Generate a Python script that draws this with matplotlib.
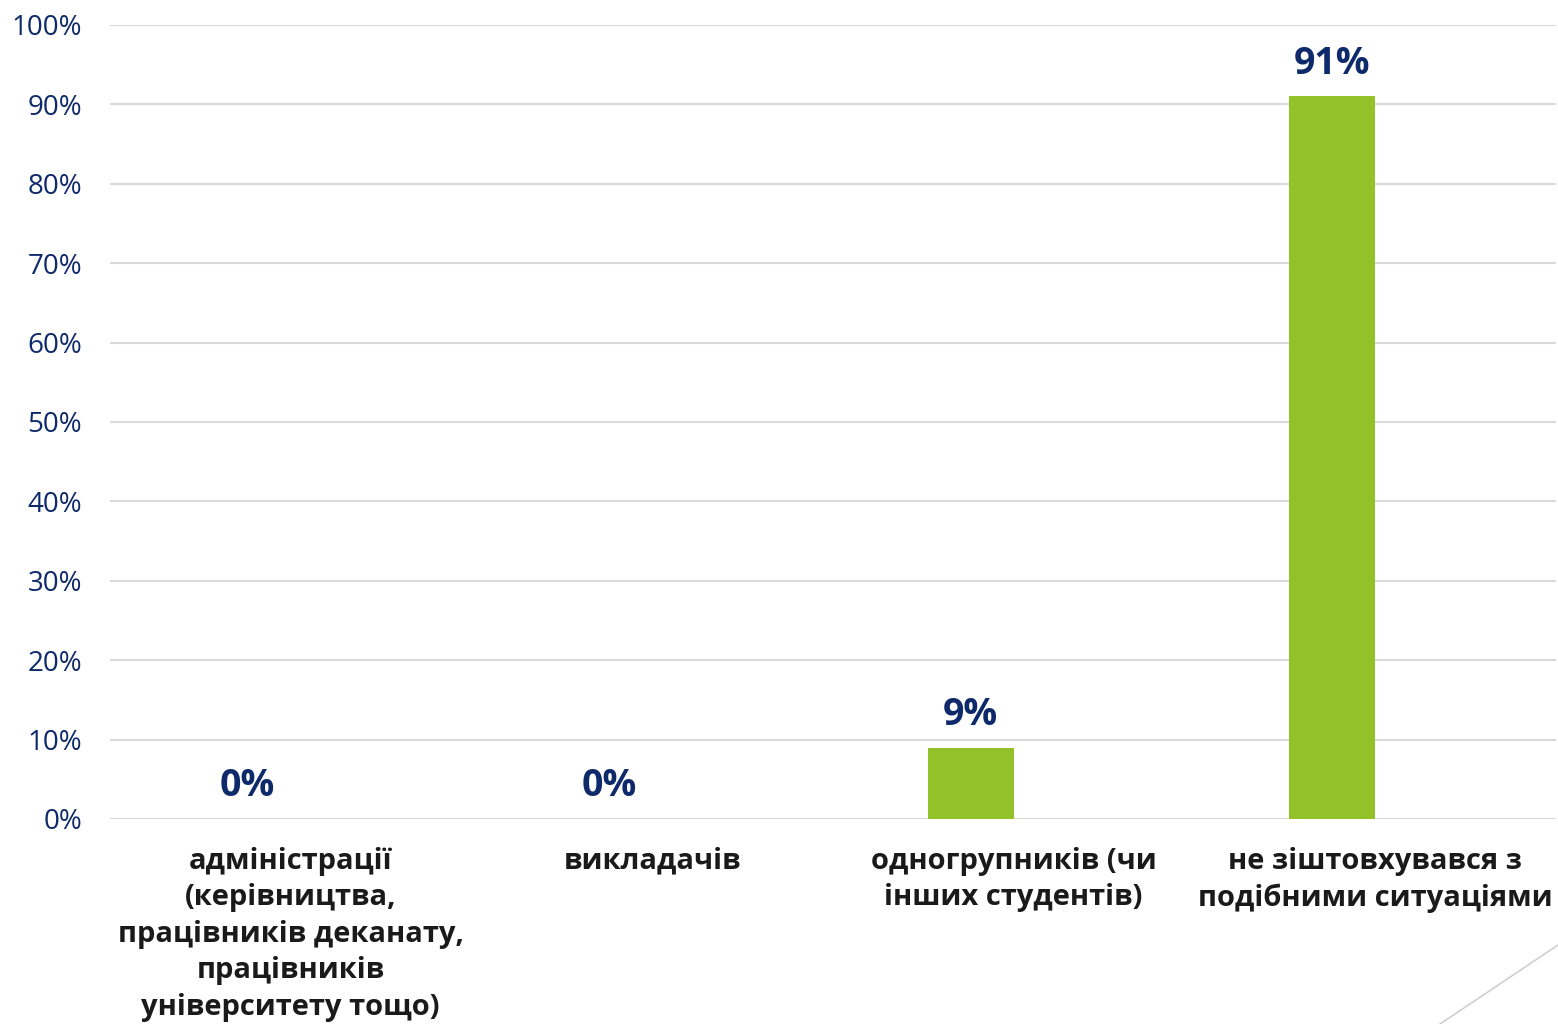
import matplotlib.pyplot as plt
from matplotlib.lines import Line2D
import numpy as np

# data
categories = [
    "адміністрації\n(керівництва,\nпрацівників деканату,\nпрацівників\nуніверситету тощо)",
    "викладачів",
    "одногрупників (чи\nінших студентів)",
    "не зіштовхувався з\nподібними ситуаціями",
]
values = [0, 0, 9, 91]
yticks = [0, 10, 20, 30, 40, 50, 60, 70, 80, 90, 100]

navy = "#0E2A6A"
green = "#92C12A"
grid = "#D9D9D9"

plt.rcParams['font.family'] = ['Open Sans', 'DejaVu Sans']

fig = plt.figure(figsize=(15.58, 10.24), dpi=100)
ax = fig.add_axes([0.0706, 0.2002, 0.928, 0.7754])

x = np.arange(len(categories))
w = 0.238
bars = ax.bar(x - w / 2, values, width=w, color=green, zorder=3)

for xi, v in zip(x, values):
    ax.annotate(f"{v}%", (xi - w / 2, v), xytext=(0, 10), textcoords="offset points",
                ha="center", va="bottom", fontsize=27, fontweight="bold", color=navy)

ax.set_xlim(-0.5, 3.5)
ax.set_ylim(0, 100)
ax.set_yticks(yticks)
ax.set_yticklabels([f"{t}%" for t in yticks], fontsize=20, color=navy)
ax.yaxis.grid(True, color=grid, linewidth=1.5, zorder=0)
ax.set_axisbelow(True)
ax.tick_params(axis="y", length=0, pad=20)
ax.tick_params(axis="x", length=0, pad=20)
ax.set_xticks(x)
ax.set_xticklabels(categories, fontsize=21, fontweight="bold", color="#1A1A1A",
                   linespacing=1.34, va="top")
for s in ax.spines.values():
    s.set_visible(False)

# decorative slide line
fig.add_artist(Line2D([1440 / 1558, 1.0], [0.0, 1 - 945 / 1024],
                      transform=fig.transFigure, color="#D0D0D0", linewidth=1.2))

fig.savefig("out.png", dpi=100)
